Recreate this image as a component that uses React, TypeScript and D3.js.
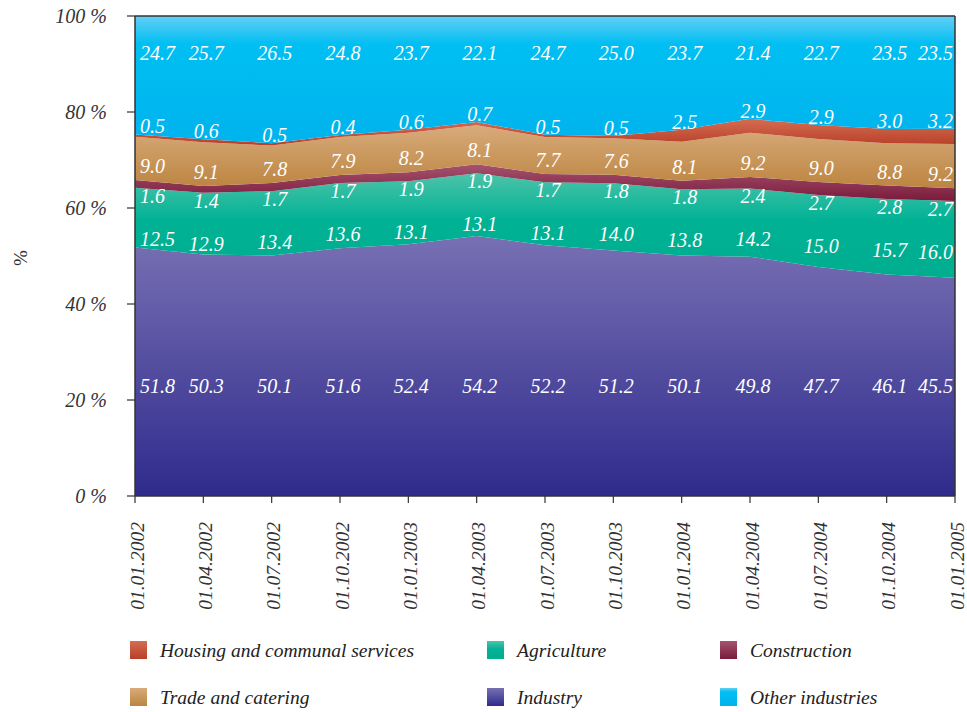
import React from 'react';
import * as d3 from 'd3';

const dates = [
  '01.01.2002', '01.04.2002', '01.07.2002', '01.10.2002', '01.01.2003', '01.04.2003', '01.07.2003',
  '01.10.2003', '01.01.2004', '01.04.2004', '01.07.2004', '01.10.2004', '01.01.2005',
];
const industry = [51.8, 50.3, 50.1, 51.6, 52.4, 54.2, 52.2, 51.2, 50.1, 49.8, 47.7, 46.1, 45.5];
const agriculture = [12.5, 12.9, 13.4, 13.6, 13.1, 13.1, 13.1, 14.0, 13.8, 14.2, 15.0, 15.7, 16.0];
const construction = [1.6, 1.4, 1.7, 1.7, 1.9, 1.9, 1.7, 1.8, 1.8, 2.4, 2.7, 2.8, 2.7];
const trade = [9.0, 9.1, 7.8, 7.9, 8.2, 8.1, 7.7, 7.6, 8.1, 9.2, 9.0, 8.8, 9.2];
const housing = [0.5, 0.6, 0.5, 0.4, 0.6, 0.7, 0.5, 0.5, 2.5, 2.9, 2.9, 3.0, 3.2];
const other = [24.7, 25.7, 26.5, 24.8, 23.7, 22.1, 24.7, 25.0, 23.7, 21.4, 22.7, 23.5, 23.5];
const yTicks = [0, 20, 40, 60, 80, 100];

type Layer = { key: string; name: string; values: number[]; stops: [number, string][] };

// stacking order, bottom first
const layers: Layer[] = [
  { key: 'industry', name: 'Industry', values: industry, stops: [[0, '#7870b3'], [1, '#2f2b8c']] },
  { key: 'agriculture', name: 'Agriculture', values: agriculture, stops: [[0, '#4dc3a9'], [0.45, '#00b295'], [1, '#00ad8f']] },
  { key: 'construction', name: 'Construction', values: construction, stops: [[0, '#a5536f'], [1, '#7a1a3b']] },
  { key: 'trade', name: 'Trade and catering', values: trade, stops: [[0, '#d8ab7b'], [1, '#bc8440']] },
  { key: 'housing', name: 'Housing and communal services', values: housing, stops: [[0, '#d46d52'], [1, '#b83f28']] },
  { key: 'other', name: 'Other industries', values: other, stops: [[0, '#62cff5'], [0.22, '#00bff2'], [1, '#00b3ed']] },
];

const legendRows = [
  ['housing', 'agriculture', 'construction'],
  ['trade', 'industry', 'other'],
];

const W = 967;
const H = 712;
const margin = { top: 16, right: 12, bottom: 216, left: 135 };
const FONT = "'Liberation Serif', 'DejaVu Serif', serif";

export default function App() {
  const x = d3.scalePoint<string>().domain(dates).range([margin.left, W - margin.right]);
  const y = d3.scaleLinear().domain([0, 100]).range([H - margin.bottom, margin.top]);

  const table = dates.map((d, i) => {
    const row: Record<string, number | string> = { date: d };
    layers.forEach((l) => (row[l.key] = l.values[i]));
    return row;
  });
  const stack = d3
    .stack<Record<string, number | string>>()
    .keys(layers.map((l) => l.key))
    .value((d, k) => d[k] as number)
    .offset(d3.stackOffsetExpand);
  const series = stack(table);

  const area = d3
    .area<d3.SeriesPoint<Record<string, number | string>>>()
    .x((d) => x(d.data.date as string)!)
    .y0((d) => y(d[0] * 100))
    .y1((d) => y(d[1] * 100));

  const x0 = margin.left;
  const x1 = W - margin.right;
  const yb = H - margin.bottom;

  const labelX = (i: number) => {
    const px = x(dates[i])!;
    if (i === 0) return { x: px + 5, anchor: 'start' };
    if (i === dates.length - 1) return { x: px - 2, anchor: 'end' };
    return { x: px + 3, anchor: 'middle' };
  };

  // baseline of each layer's value label
  const labelY = (key: string, s: d3.SeriesPoint<any>): number => {
    switch (key) {
      case 'other':
        return 60;
      case 'housing':
        return y(s[1] * 100) - 1;
      case 'trade':
        return y(s[0] * 100) - 7;
      case 'construction':
        return y(s[0] * 100) + 15;
      case 'agriculture':
        return y(s[1] * 100) + 58;
      default:
        return 393;
    }
  };

  const legendX = [130, 487, 720];
  const legendY = [650, 697];

  return (
    <svg width={W} height={H} style={{ position: 'absolute', left: 0, top: 0, background: '#fff', fontFamily: FONT }}>
      <defs>
        {layers.map((l) => (
          <linearGradient key={l.key} id={`g-${l.key}`} x1="0" y1="0" x2="0" y2="1">
            {l.stops.map(([o, c], j) => (
              <stop key={j} offset={o} stopColor={c} />
            ))}
          </linearGradient>
        ))}
      </defs>

      {series.map((s, li) => (
        <path key={layers[li].key} d={area(s) || ''} fill={`url(#g-${layers[li].key})`} />
      ))}

      {/* value labels */}
      {series.map((s, li) =>
        s.map((p, i) => {
          const lx = labelX(i);
          return (
            <text
              key={`${li}-${i}`}
              x={lx.x}
              y={labelY(layers[li].key, p)}
              textAnchor={lx.anchor}
              fill="#fff"
              fontStyle="italic"
              fontSize={20}
            >
              {layers[li].values[i].toFixed(1)}
            </text>
          );
        })
      )}

      {/* frame */}
      <line x1={x0} x2={x1} y1={margin.top} y2={margin.top} stroke="#333" strokeWidth={1.5} />
      <line x1={x1} x2={x1} y1={margin.top} y2={yb} stroke="#333" strokeWidth={1.5} />
      <line x1={x0} x2={x0} y1={margin.top} y2={yb} stroke="#333" strokeWidth={1.5} />
      <line x1={x0} x2={x1} y1={yb} y2={yb} stroke="#333" strokeWidth={1.5} />

      {/* y axis */}
      {yTicks.map((t) => (
        <g key={t} transform={`translate(0,${y(t)})`}>
          <line x1={x0 - 8} x2={x0} stroke="#333" strokeWidth={1.2} />
          <text x={107} dy="0.35em" textAnchor="end" fontStyle="italic" fontSize={20} fill="#333">
            {`${t} %`}
          </text>
        </g>
      ))}
      <text transform="translate(27,258) rotate(-90)" textAnchor="middle" fontSize={19} fill="#333">
        %
      </text>

      {/* x axis */}
      {dates.map((d) => (
        <g key={d} transform={`translate(${x(d)},0)`}>
          <line y1={yb} y2={yb + 7} stroke="#333" strokeWidth={1.2} />
          <text transform={`translate(2,${yb + 26}) rotate(-90)`} dy="0.35em" textAnchor="end" fontStyle="italic" fontSize={19.5} fill="#333">
            {d}
          </text>
        </g>
      ))}

      {/* legend */}
      {legendRows.map((row, r) =>
        row.map((key, c) => {
          const l = layers.find((q) => q.key === key)!;
          return (
            <g key={key} transform={`translate(${legendX[c]},${legendY[r]})`}>
              <rect x={0} y={-9} width={17} height={18} fill={`url(#g-${key})`} />
              <text x={30} dy="0.35em" fontStyle="italic" fontSize={19.5} fill="#222">
                {l.name}
              </text>
            </g>
          );
        })
      )}
    </svg>
  );
}
